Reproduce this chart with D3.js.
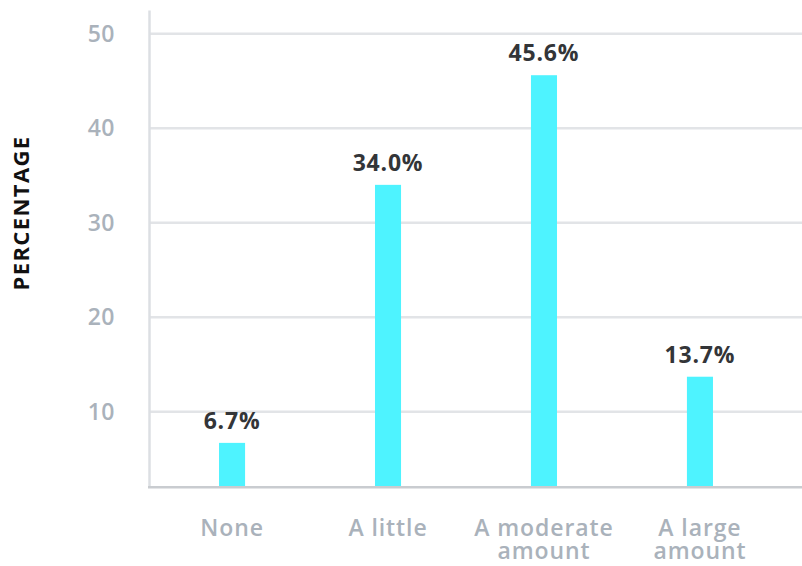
<!DOCTYPE html>
<html><head><meta charset="utf-8">
<script src="https://cdn.jsdelivr.net/npm/d3@7"></script>
<style>body{margin:0;background:#fff}svg{display:block}</style>
</head><body>
<svg id="c" width="802" height="566"></svg>
<script>
const categories = ["None", "A little", "A moderate amount", "A large amount"];
const categoryLines = [["None"], ["A little"], ["A moderate", "amount"], ["A large", "amount"]];
const values = [6.7, 34.0, 45.6, 13.7];
const valueLabels = ["6.7%", "34.0%", "45.6%", "13.7%"];
const yTicks = [10, 20, 30, 40, 50];
const yTitle = "PERCENTAGE";

const svg = d3.select("#c");
const font = "'Open Sans', Lato, sans-serif";
const x = d3.scaleBand().domain(categories).range([149, 783]).paddingInner(0.833).paddingOuter(0.449);
const y = d3.scaleLinear().domain([2, 52.5]).range([487.3, 10]);

// gridlines
svg.append("g").selectAll("line").data(yTicks).join("line")
  .attr("x1", 149).attr("x2", 802)
  .attr("y1", d => y(d)).attr("y2", d => y(d))
  .attr("stroke", "#e2e4e7").attr("stroke-width", 2.5);

// y axis
const yAxis = svg.append("g").attr("transform", "translate(149,0)")
  .call(d3.axisLeft(y).tickValues(yTicks).tickSize(0).tickPadding(34));
yAxis.select(".domain").attr("stroke", "#dcdfe3").attr("stroke-width", 2.5);
yAxis.selectAll("text").attr("font-family", font).attr("font-weight", 600)
  .attr("font-size", 23).attr("letter-spacing", 0.5).attr("fill", "#aab2bb");

// bars
svg.append("g").selectAll("rect").data(values).join("rect")
  .attr("x", (d, i) => x(categories[i]))
  .attr("width", x.bandwidth())
  .attr("y", d => y(d))
  .attr("height", d => y(2) - y(d))
  .attr("fill", "#4ef3ff");

// baseline
svg.append("line").attr("x1", 148).attr("x2", 802).attr("y1", y(2)).attr("y2", y(2))
  .attr("stroke", "#c9ccd0").attr("stroke-width", 2.5);

// value labels
svg.append("g").selectAll("text").data(values).join("text")
  .attr("x", (d, i) => x(categories[i]) + x.bandwidth() / 2)
  .attr("y", d => y(d) - 14)
  .attr("text-anchor", "middle")
  .attr("font-family", font).attr("font-weight", 700).attr("font-size", 23)
  .attr("letter-spacing", 0.8)
  .attr("fill", "#333538")
  .text((d, i) => valueLabels[i]);

// category labels
categoryLines.forEach((lines, i) => {
  lines.forEach((ln, j) => {
    svg.append("text")
      .attr("x", x(categories[i]) + x.bandwidth() / 2)
      .attr("y", 536 + j * 23)
      .attr("text-anchor", "middle")
      .attr("font-family", font).attr("font-weight", 600).attr("font-size", 23)
      .attr("letter-spacing", 0.9)
      .attr("fill", "#aab2bb")
      .text(ln);
  });
});

// y title
svg.append("text")
  .attr("transform", "translate(29,213) rotate(-90)")
  .attr("text-anchor", "middle")
  .attr("font-family", font).attr("font-weight", 700).attr("font-size", 22)
  .attr("letter-spacing", 1.4)
  .attr("fill", "#111")
  .text(yTitle);
</script>
</body></html>
